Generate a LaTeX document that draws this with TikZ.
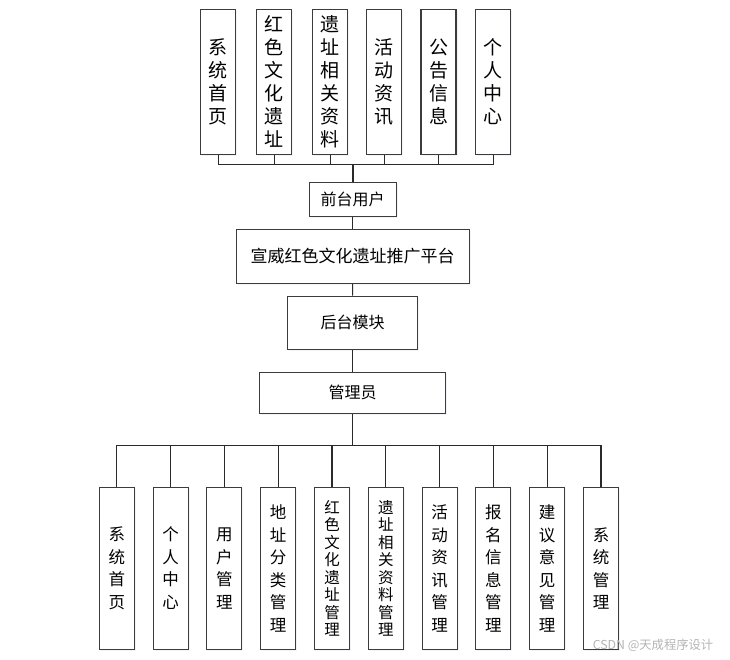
\documentclass[tikz,border=0pt]{standalone}
\usepackage{fontspec}
\setmainfont{Noto Sans CJK SC}
\usepackage{xcolor}
\usepackage{tikz}
\usetikzlibrary{shadows}
\definecolor{rim}{HTML}{3C3C3C}
\definecolor{wire}{HTML}{2A2A2A}
\definecolor{mark}{HTML}{B4B4B4}
\definecolor{glow}{HTML}{E4EAF4}

\begin{document}
\begin{tikzpicture}[x=1pt,y=-1pt,
  vtop/.style={rectangle,draw=rim,line width=1.1pt,fill=white,inner sep=0pt,
               minimum width=35pt,minimum height=145pt,align=center,
               font=\fontsize{19}{23}\selectfont,
               drop shadow={shadow xshift=1.5pt,shadow yshift=-1.5pt,fill=glow}},
  vbot/.style={vtop,minimum height=162pt,font=\fontsize{16.5}{22.5}\selectfont},
  vbotsm/.style={vbot,font=\fontsize{15.5}{17.5}\selectfont},
  hbox/.style={rectangle,draw=rim,line width=1.1pt,fill=white,inner sep=0pt,
               font=\fontsize{16}{18}\selectfont,
               drop shadow={shadow xshift=1.5pt,shadow yshift=-1.5pt,fill=glow}},
  link/.style={draw=wire,line width=1.1pt}
]
\useasboundingbox (0,0) rectangle (730,659);

% front-end functions
\node[vtop] (f1) at (218.3,81.8) {系\\统\\首\\页};
\node[vtop] (f2) at (274.2,81.8) {红\\色\\文\\化\\遗\\址};
\node[vtop] (f3) at (330.2,81.8) {遗\\址\\相\\关\\资\\料};
\node[vtop] (f4) at (384.2,81.8) {活\\动\\资\\讯};
\node[vtop] (f5) at (438.5,81.8) {公\\告\\信\\息};
\node[vtop] (f6) at (493.3,81.8) {个\\人\\中\\心};

% middle column
\node[hbox,minimum width=87pt,minimum height=34.4pt] (user) at (352.7,199.5) {前台用户};
\node[hbox,minimum width=233.3pt,minimum height=54pt,font=\fontsize{17}{20}\selectfont] (plat) at (352.7,256.3) {宣威红色文化遗址推广平台};
\node[hbox,minimum width=129.6pt,minimum height=53.3pt] (back) at (352.5,322.7) {后台模块};
\node[hbox,minimum width=186.4pt,minimum height=41pt] (admin) at (352.5,392.8) {管理员};

% back-end functions
\node[vbot] (b1) at (116.8,568.3) {系\\统\\首\\页};
\node[vbot] (b2) at (170.6,568.3) {个\\人\\中\\心};
\node[vbot] (b3) at (224.4,568.3) {用\\户\\管\\理};
\node[vbot] (b4) at (278.2,568.3) {地\\址\\分\\类\\管\\理};
\node[vbotsm] (b5) at (332.0,568.3) {红\\色\\文\\化\\遗\\址\\管\\理};
\node[vbotsm] (b6) at (385.8,568.3) {遗\\址\\相\\关\\资\\料\\管\\理};
\node[vbot] (b7) at (439.6,568.3) {活\\动\\资\\讯\\管\\理};
\node[vbot] (b8) at (493.4,568.3) {报\\名\\信\\息\\管\\理};
\node[vbot] (b9) at (547.2,568.3) {建\\议\\意\\见\\管\\理};
\node[vbot] (b10) at (601.0,568.3) {系\\统\\管\\理};

\coordinate (tbus) at (352.7,164.3);
\coordinate (bbus) at (352.5,445.7);

% connectors
\foreach \n in {f1,f2,f3,f4,f5,f6}
  \draw[link] (\n.south) |- (tbus);
\draw[link,line width=1.8pt] (tbus) -- (user.north);
\draw[link] (user) -- (plat);
\draw[link] (plat) -- (back);
\draw[link] (back) -- (admin);
\draw[link] (admin) -- (bbus);
\foreach \n in {b1,b2,b3,b4,b5,b6,b7,b8,b9,b10}
  \draw[link] (\n.north) |- (bbus);

\node[text=mark,font=\fontsize{12.3}{13}\selectfont,inner sep=0pt] (wm) at (653,645) {CSDN @天成程序设计};
\end{tikzpicture}
\end{document}
